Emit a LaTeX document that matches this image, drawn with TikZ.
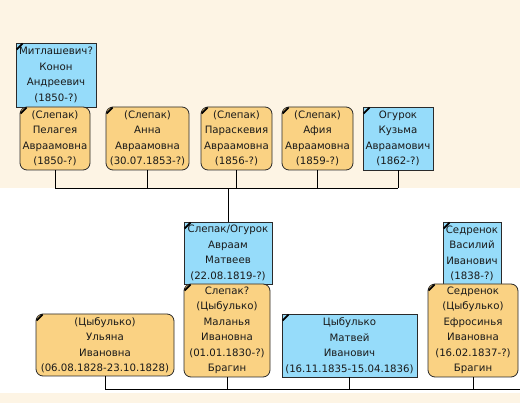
\documentclass[tikz,border=0pt]{standalone}
\usepackage{fontspec}
\setmainfont{DejaVu Sans}
\definecolor{bgbeige}{HTML}{FDF4E4}
\definecolor{manblue}{HTML}{96DCFA}
\definecolor{womanorange}{HTML}{FAD283}
\definecolor{edge}{HTML}{2A2A2A}
\begin{document}
\begin{tikzpicture}[x=1pt,y=-1pt,
  person/.style={draw=edge,line width=0.8pt,align=center,inner sep=0pt,
    font=\fontsize{10.2}{15.5}\selectfont,text=black!90,
    execute at begin node={\rule{0pt}{12.8pt}}},
  man/.style={person,fill=manblue},
  woman/.style={person,fill=womanorange,rounded corners=7pt},
  link/.style={draw=black,line width=0.8pt},
  cornermark/.style={line width=1.8pt,black}]
\useasboundingbox (0,0) rectangle (520,403);
\fill[bgbeige] (0,0) rectangle (520,188);
\fill[white] (0,188) rectangle (520,393);
\fill[bgbeige] (0,393) rectangle (520,403);

\coordinate (topbar) at (0,188);
\coordinate (botbar) at (0,389);
\coordinate (botend) at (520,389);

% top generation
\node[man,minimum width=80pt,minimum height=64pt] (mit) at (56,75)
  {Митлашевич?\\Конон\\Андреевич\\(1850-?)};
\node[woman,minimum width=70pt,minimum height=63pt] (pel) at (55,138.5)
  {(Слепак)\\Пелагея\\Авраамовна\\(1850-?)};
\node[woman,minimum width=83pt,minimum height=63pt] (anna) at (147.5,138.5)
  {(Слепак)\\Анна\\Авраамовна\\(30.07.1853-?)};
\node[woman,minimum width=71pt,minimum height=63pt] (par) at (236.5,138.5)
  {(Слепак)\\Параскевия\\Авраамовна\\(1856-?)};
\node[woman,minimum width=71pt,minimum height=63pt] (afi) at (317.5,138.5)
  {(Слепак)\\Афия\\Авраамовна\\(1859-?)};
\node[man,minimum width=70pt,minimum height=63pt] (kuz) at (398,138.5)
  {Огурок\\Кузьма\\Авраамович\\(1862-?)};

% middle generation
\node[man,minimum width=88pt,minimum height=62pt] (avr) at (228,253)
  {Слепак/Огурок\\Авраам\\Матвеев\\(22.08.1819-?)};
\node[woman,minimum width=86pt,minimum height=93pt] (mal) at (227,330.5)
  {Слепак?\\(Цыбулько)\\Маланья\\Ивановна\\(01.01.1830-?)\\Брагин};
\node[woman,minimum width=138pt,minimum height=62pt] (uly) at (105,345)
  {(Цыбулько)\\Ульяна\\Ивановна\\(06.08.1828-23.10.1828)};
\node[man,minimum width=135pt,minimum height=63pt] (mat) at (349.5,345.5)
  {Цыбулько\\Матвей\\Иванович\\(16.11.1835-15.04.1836)};
\node[man,minimum width=58pt,minimum height=63pt] (sed) at (472,253.5)
  {Седренок\\Василий\\Иванович\\(1838-?)};
\node[woman,minimum width=90pt,minimum height=93pt] (efr) at (473,330.5)
  {Седренок\\(Цыбулько)\\Ефросинья\\Ивановна\\(16.02.1837-?)\\Брагин};

% corner marks
\foreach \n in {mit,pel,anna,par,afi,kuz,avr,mal,uly,mat,sed,efr}{
  \draw[cornermark] ([shift={(1,7)}]\n.north west) -- ([shift={(7,1)}]\n.north west);
}

% connectors top
\foreach \n in {pel,anna,par,afi,kuz}{
  \draw[link] (\n.south) -- (\n.south |- topbar);
}
\draw[link] (pel.south |- topbar) -- (kuz.south |- topbar);
\draw[link] (avr.north) -- (avr.north |- topbar);

% connectors bottom
\foreach \n in {uly,mal,mat,efr}{
  \draw[link] (\n.south) -- (\n.south |- botbar);
}
\draw[link] (uly.south |- botbar) -- (botend);
\end{tikzpicture}
\end{document}
